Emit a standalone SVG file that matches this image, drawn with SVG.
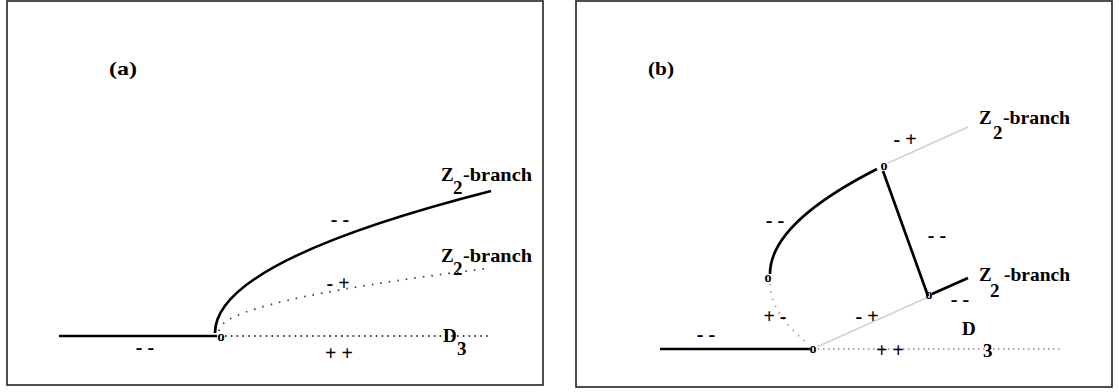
<svg xmlns="http://www.w3.org/2000/svg" width="1119" height="392" viewBox="0 0 1119 392" font-family="'Liberation Serif', 'Times New Roman', serif">
  <style>
    .frame { fill: #ffffff; stroke: #222222; stroke-width: 1.6; }
    .solid { fill: none; stroke: #000000; stroke-width: 2.7; stroke-linecap: butt; }
    .dotA { fill: none; stroke: #444444; stroke-width: 1.8; stroke-dasharray: 1.6 4.2; }
    .dotAc { fill: none; stroke: #444444; stroke-width: 1.8; stroke-dasharray: 1.6 7; }
    .dotB { fill: none; stroke: #8a8a8a; stroke-width: 1.6; stroke-dasharray: 1.5 3.5; }
    .dotBc { fill: none; stroke: #9a9a9a; stroke-width: 1.6; stroke-dasharray: 1.5 6; }
    .light { fill: none; stroke: #d2d2d2; stroke-width: 1.8; }
    text { font-family: "Liberation Serif", "Times New Roman", serif; font-weight: bold; fill: #000000; }
    .lbl { font-size: 19px; }
    .sgn { font-size: 20px; }
    .ttl { font-size: 19px; }
    .pt { font-size: 15px; }
    .ptb { font-size: 14px; }
  </style>

  <g id="panel-a">
    <rect class="frame" x="7" y="1" width="536" height="384"/>
    <g id="connectors-a">
      <line class="solid" x1="59" y1="336" x2="217" y2="336"/>
      <path class="solid" d="M215,333 Q215,261.5 491,191"/>
      <path class="dotAc" d="M219,331 Q219,301.5 491,268"/>
      <line class="dotA" x1="225" y1="336" x2="491" y2="336"/>
    </g>
    <g id="labels-a">
      <text class="ttl" x="109" y="75" textLength="28" lengthAdjust="spacingAndGlyphs">(a)</text>
      <text class="pt" x="221" y="341" text-anchor="middle">o</text>
      <text class="sgn" x="145" y="354" text-anchor="middle">- -</text>
      <text class="sgn" x="340" y="226" text-anchor="middle">- -</text>
      <text class="sgn" x="338" y="290" text-anchor="middle">- +</text>
      <text class="sgn" x="339" y="360" text-anchor="middle">+ +</text>
      <g id="label-z2-solid-a">
        <text class="lbl" x="441" y="181">Z</text>
        <text class="lbl" x="453" y="194">2</text>
        <text class="lbl" x="463" y="181" textLength="69" lengthAdjust="spacingAndGlyphs">-branch</text>
      </g>
      <g id="label-z2-dotted-a">
        <text class="lbl" x="441" y="262">Z</text>
        <text class="lbl" x="453" y="275">2</text>
        <text class="lbl" x="463" y="262" textLength="69" lengthAdjust="spacingAndGlyphs">-branch</text>
      </g>
      <g id="label-d3-a">
        <text class="lbl" x="443" y="342">D</text>
        <text class="lbl" x="457" y="355">3</text>
      </g>
    </g>
  </g>

  <g id="panel-b">
    <rect class="frame" x="576" y="1" width="536" height="386"/>
    <g id="connectors-b">
      <line class="solid" x1="660" y1="349" x2="810" y2="349"/>
      <line class="dotB" x1="818" y1="349" x2="1061" y2="349"/>
      <path class="dotBc" d="M770,284 Q770,312.5 808,344"/>
      <path class="solid" d="M770,274 Q770,223.5 877,169"/>
      <line class="light" x1="888" y1="163" x2="968" y2="127"/>
      <line class="solid" x1="883" y1="171" x2="928" y2="296"/>
      <line class="solid" x1="932" y1="294" x2="968" y2="278"/>
      <line class="light" x1="817" y1="347" x2="926" y2="298"/>
    </g>
    <g id="labels-b">
      <text class="ttl" x="648" y="75" textLength="26" lengthAdjust="spacingAndGlyphs">(b)</text>
      <text class="ptb" x="813" y="353" text-anchor="middle">o</text>
      <text class="ptb" x="768" y="282" text-anchor="middle">o</text>
      <text class="ptb" x="884" y="170" text-anchor="middle">o</text>
      <text class="ptb" x="929" y="299" text-anchor="middle">o</text>
      <text class="sgn" x="706" y="341" text-anchor="middle">- -</text>
      <text class="sgn" x="775" y="227" text-anchor="middle">- -</text>
      <text class="sgn" x="937" y="242" text-anchor="middle">- -</text>
      <text class="sgn" x="960" y="306" text-anchor="middle">- -</text>
      <text class="sgn" x="905" y="146" text-anchor="middle">- +</text>
      <text class="sgn" x="867" y="323" text-anchor="middle">- +</text>
      <text class="sgn" x="775" y="323" text-anchor="middle">+ -</text>
      <text class="sgn" x="890" y="357" text-anchor="middle">+ +</text>
      <g id="label-z2-upper-b">
        <text class="lbl" x="979" y="124">Z</text>
        <text class="lbl" x="993" y="139">2</text>
        <text class="lbl" x="1003" y="124" textLength="67" lengthAdjust="spacingAndGlyphs">-branch</text>
      </g>
      <g id="label-z2-lower-b">
        <text class="lbl" x="979" y="281">Z</text>
        <text class="lbl" x="990" y="297">2</text>
        <text class="lbl" x="1004" y="281" textLength="66" lengthAdjust="spacingAndGlyphs">-branch</text>
      </g>
      <g id="label-d3-b">
        <text class="lbl" x="962" y="335">D</text>
        <text class="lbl" x="983" y="357">3</text>
      </g>
    </g>
  </g>
</svg>
